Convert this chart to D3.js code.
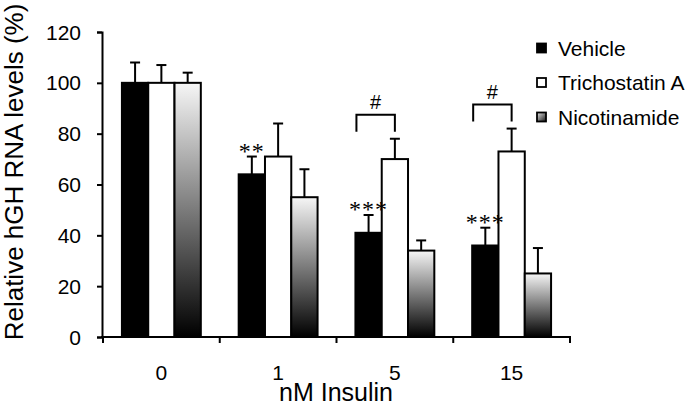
<!DOCTYPE html>
<html><head><meta charset="utf-8">
<script src="https://cdn.jsdelivr.net/npm/d3@7"></script>
<style>body{margin:0;background:#fff}svg{display:block}</style>
</head><body>
<svg id="c" width="693" height="405"></svg>
<script>
const groups = ["0", "1", "5", "15"];
const seriesNames = ["Vehicle", "Trichostatin A", "Nicotinamide"];
const vehicle = [100, 64, 41, 36];
const vehicleErr = [8, 7, 7, 7];
const trichostatin = [100, 71, 70, 73];
const trichostatinErr = [7, 13, 8, 9];
const nicotinamide = [100, 55, 34, 25];
const nicotinamideErr = [4, 11, 4, 10];
const yTicks = [0, 20, 40, 60, 80, 100, 120];
const stars = [{group: "1", label: "**"}, {group: "5", label: "***"}, {group: "15", label: "***"}];
const hashes = [{group: "5", label: "#"}, {group: "15", label: "#"}];

const SANS = '"Liberation Sans", Arial, sans-serif';
const SERIF = '"Liberation Serif", "Times New Roman", serif';

const values = [vehicle, trichostatin, nicotinamide];
const errs = [vehicleErr, trichostatinErr, nicotinamideErr];
const data = [];
groups.forEach((g, gi) => seriesNames.forEach((s, si) => data.push({group: g, series: s, si, value: values[si][gi], err: errs[si][gi]})));

const svg = d3.select("#c");
const defs = svg.append("defs");
const grad = defs.append("linearGradient").attr("id", "ng").attr("x1", 0).attr("y1", 0).attr("x2", 0).attr("y2", 1);
grad.append("stop").attr("offset", "0%").attr("stop-color", "#f6f6f6");
grad.append("stop").attr("offset", "100%").attr("stop-color", "#000");
const grad2 = defs.append("linearGradient").attr("id", "ng2").attr("x1", 0).attr("y1", 0).attr("x2", 1).attr("y2", 1);
grad2.append("stop").attr("offset", "0%").attr("stop-color", "#e8e8e8");
grad2.append("stop").attr("offset", "100%").attr("stop-color", "#111");

const fills = {"Vehicle": "#000", "Trichostatin A": "#fff", "Nicotinamide": "url(#ng)"};
const legendFills = {"Vehicle": "#000", "Trichostatin A": "#fff", "Nicotinamide": "url(#ng2)"};

const x = d3.scaleBand().domain(groups).range([103, 570]).paddingInner(0).paddingOuter(0);
const x1 = d3.scaleBand().domain(seriesNames).range([0, x.bandwidth()]).paddingInner(0).paddingOuter(0.72);
const y = d3.scaleLinear().domain([0, 120]).range([337, 32]);

function txt(sel, size, fam) {
  return sel.attr("font-size", size).attr("font-family", fam || SANS).attr("fill", "#000")
    .style("font-size", size + "px").style("font-family", fam || SANS).style("fill", "#000");
}

// bars
svg.append("g").selectAll("rect").data(data).join("rect")
  .attr("x", d => x(d.group) + x1(d.series))
  .attr("y", d => y(d.value))
  .attr("width", x1.bandwidth())
  .attr("height", d => y(0) - y(d.value))
  .attr("fill", d => fills[d.series])
  .attr("stroke", "#000").attr("stroke-width", 2);

// error bars
const eg = svg.append("g").attr("stroke", "#000").attr("stroke-width", 2);
data.forEach(d => {
  const cx = x(d.group) + x1(d.series) + x1.bandwidth() / 2;
  eg.append("line").attr("x1", cx).attr("x2", cx).attr("y1", y(d.value)).attr("y2", y(d.value + d.err));
  eg.append("line").attr("x1", cx - 5).attr("x2", cx + 5).attr("y1", y(d.value + d.err)).attr("y2", y(d.value + d.err));
});

// y axis (lines from d3 axis, labels drawn explicitly from the scale)
const ya = svg.append("g").attr("transform", "translate(102,0)")
  .call(d3.axisLeft(y).tickValues(yTicks).tickSize(5).tickFormat(""));
ya.select(".domain").attr("stroke-width", 2);
ya.selectAll(".tick line").attr("stroke-width", 2);
txt(svg.append("g").selectAll("text").data(yTicks).join("text")
  .attr("x", 81).attr("y", d => y(d) + 7.5).attr("text-anchor", "end").text(d => d), 21);

// x axis
svg.append("line").attr("x1", 101).attr("x2", 571).attr("y1", y(0)).attr("y2", y(0)).attr("stroke", "#000").attr("stroke-width", 2);
const bounds = groups.map(g => x(g)).concat([x(groups[groups.length - 1]) + x.bandwidth()]);
svg.append("g").selectAll("line").data(bounds).join("line")
  .attr("x1", d => d).attr("x2", d => d).attr("y1", y(0)).attr("y2", y(0) + 6)
  .attr("stroke", "#000").attr("stroke-width", 2);
txt(svg.append("g").selectAll("text").data(groups).join("text")
  .attr("x", d => x(d) + x.bandwidth() / 2).attr("y", 380)
  .attr("text-anchor", "middle").text(d => d), 21);

// axis titles
txt(svg.append("text").attr("x", 336).attr("y", 401).attr("text-anchor", "middle").text("nM Insulin"), 25);
txt(svg.append("text").attr("transform", "translate(23,172) rotate(-90)").attr("text-anchor", "middle").text("Relative hGH RNA levels (%)"), 26);

// stars
stars.forEach(s => {
  const d = data.find(e => e.group === s.group && e.series === "Vehicle");
  const cx = x(d.group) + x1(d.series) + x1.bandwidth() / 2;
  txt(svg.append("text").attr("x", cx).attr("y", y(d.value + d.err) + 2)
    .attr("text-anchor", "middle").style("letter-spacing", "1px").text(s.label), 24, SERIF);
});

// brackets
hashes.forEach(h => {
  const v = data.find(e => e.group === h.group && e.series === "Vehicle");
  const t = data.find(e => e.group === h.group && e.series === "Trichostatin A");
  const xl = x(v.group) + x1(v.series) + 1;
  const xr = x(t.group) + x1(t.series) + x1.bandwidth() / 2;
  const top = y(t.value + t.err) - 24;
  svg.append("path").attr("d", `M${xl},${top + 17}V${top}H${xr}V${top + 17}`)
    .attr("fill", "none").attr("stroke", "#000").attr("stroke-width", 2);
  txt(svg.append("text").attr("x", (xl + xr) / 2).attr("y", top - 6).attr("text-anchor", "middle").text(h.label), 20);
});

// legend
const lg = svg.append("g");
seriesNames.forEach((s, i) => {
  const cy = 48 + i * 34.5;
  lg.append("rect").attr("x", 537).attr("y", cy - 4.5).attr("width", 9).attr("height", 9)
    .attr("fill", legendFills[s]).attr("stroke", "#000").attr("stroke-width", 1.8);
  txt(lg.append("text").attr("x", 558).attr("y", cy + 7.5).text(s), 21);
});
</script>
</body></html>
